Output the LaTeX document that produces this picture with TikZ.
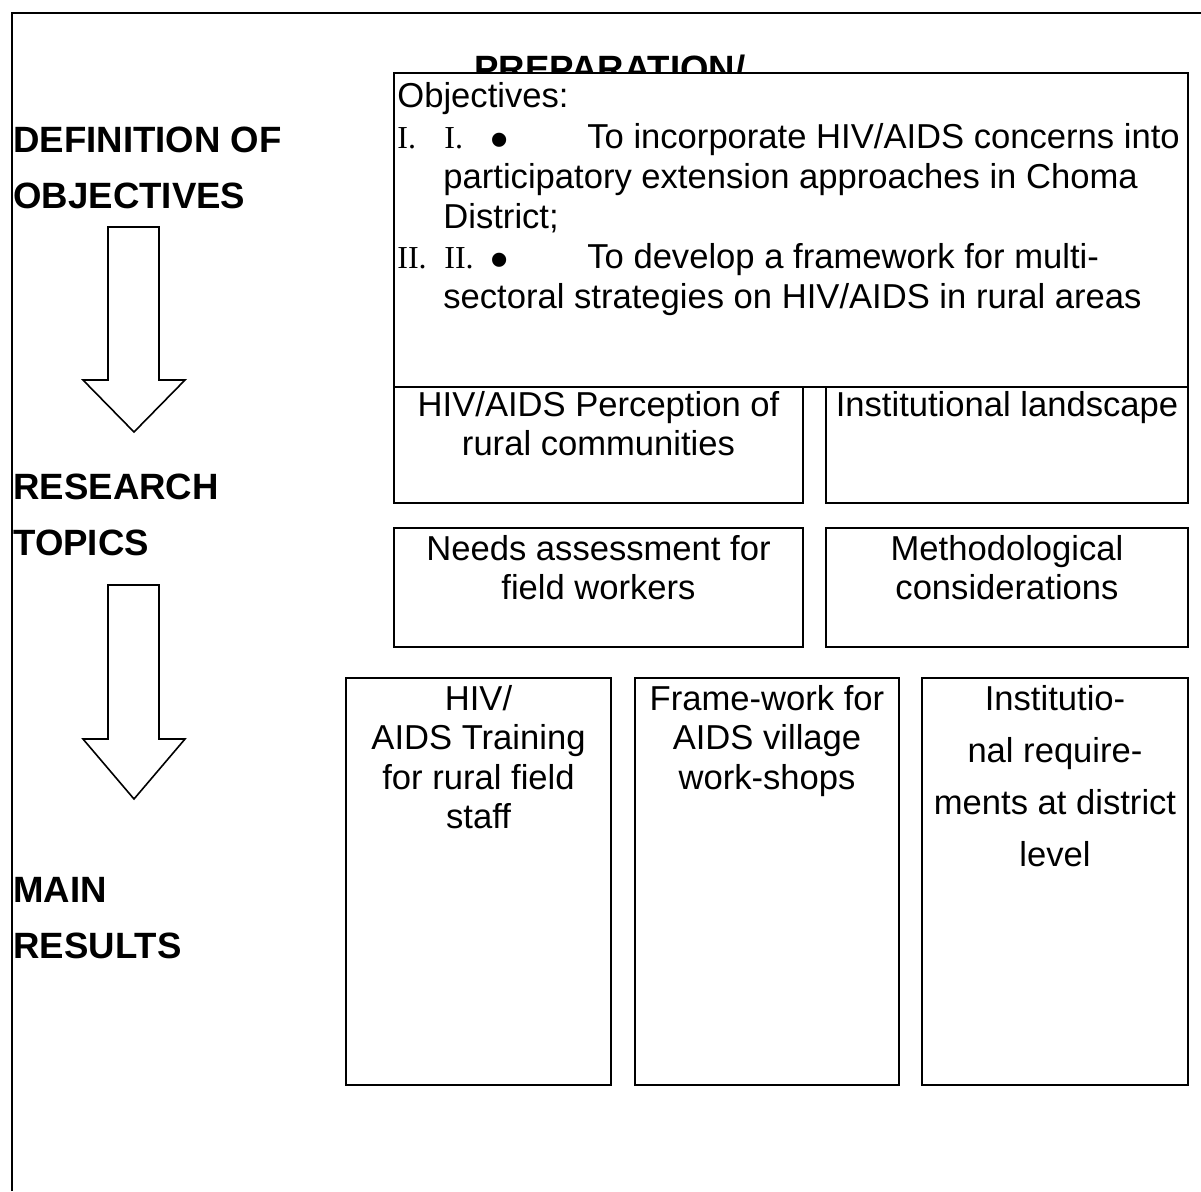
\documentclass[tikz,border=0pt]{standalone}
\usepackage{fontspec}
\setmainfont{Liberation Sans}
\newfontfamily\timesfont{Liberation Serif}
\usetikzlibrary{positioning}
\newcommand{\objdot}{\smash{\raisebox{-4.5pt}{•}}}

\begin{document}
\begin{tikzpicture}[x=0.5pt, y=-0.5pt,
  cell/.style={draw, line width=0.9pt, fill=white, inner sep=0pt, outer sep=0pt},
  txt/.style={inner sep=0pt, align=center, font=\fontsize{17.3}{19.7}\selectfont},
  head/.style={inner sep=0pt, align=left, anchor=north west, font=\fontsize{18.3}{28}\selectfont\bfseries},
  ln/.style={inner sep=0pt, anchor=base west, font=\fontsize{17.3}{20}\selectfont},
  rom/.style={ln, font=\fontsize{16}{20}\selectfont\timesfont},
  dot/.style={ln, font=\fontsize{26}{20}\selectfont},
  barrow/.style={draw, line width=0.8pt, line join=miter}]
  \useasboundingbox (0,0) rectangle (1201,1191);
  % frame
  \draw[line width=1pt] (12,1191) -- (12,13) -- (1201,13);
  % stage headings
  \node[head] (hdef) at (13,127) {DEFINITION OF\\OBJECTIVES};
  \node[head] (hres) at (13,474) {RESEARCH\\TOPICS};
  \node[head] (hmain) at (13,877) {MAIN\\RESULTS};
  \foreach \t/\h/\e in {227/380/432, 585/739/799}
    \draw[barrow] (108,\t) -- (159,\t) -- (159,\h) -- (185,\h) -- (134,\e) -- (83,\h) -- (108,\h) -- cycle;
  % objectives
  \node[inner sep=0pt, anchor=base, font=\fontsize{18.3}{22}\selectfont\bfseries] (prep) at (610,81) {PREPARATION/};
  \node[cell, minimum width=397pt, minimum height=157pt] (obj) at (791,230) {};
  \node[ln] (obj0) at (397,107) {Objectives:};
  \node[rom] (obj1a) at (397,148) {I.};
  \node[rom] (obj1b) at (444,148) {I.};
  \node[dot] (obj1c) at (490,148) {\objdot};
  \node[ln] (obj1) at (587,148) {To incorporate HIV/AIDS concerns into};
  \node[ln] (obj2) at (443,188) {participatory extension approaches in Choma};
  \node[ln] (obj3) at (443,228) {District;};
  \node[rom] (obj4a) at (397,268) {II.};
  \node[rom] (obj4b) at (444,268) {II.};
  \node[dot] (obj4c) at (490,268) {\objdot};
  \node[ln] (obj4) at (587,268) {To develop a framework for multi-};
  \node[ln] (obj5) at (443,308) {sectoral strategies on HIV/AIDS in rural areas};
  % research topics
  \node[cell, minimum width=204.5pt, minimum height=58pt] (topA) at (598.5,445) {};
  \node[cell, minimum width=181pt, minimum height=58pt] (topB) at (1007,445) {};
  \node[cell, minimum width=204.5pt, minimum height=59.5pt] (midC) at (598.5,587.5) {};
  \node[cell, minimum width=181pt, minimum height=59.5pt] (midD) at (1007,587.5) {};
  \node[txt, below=2pt of topA.north] (topAt) {HIV/AIDS Perception of\\rural communities};
  \node[txt, below=2pt of topB.north] (topBt) {Institutional landscape};
  \node[txt, below=3.5pt of midC.north] (midCt) {Needs assessment for\\field workers};
  \node[txt, below=3.5pt of midD.north] (midDt) {Methodological\\considerations};
  % main results
  \node[cell, minimum width=132.5pt, minimum height=203.5pt] (resE) at (478.5,881.5) {};
  \node[cell, minimum width=132pt, minimum height=203.5pt] (resF) at (767,881.5) {};
  \node[cell, minimum width=133pt, minimum height=203.5pt] (resG) at (1055,881.5) {};
  \node[txt, below=3.5pt of resE.north] (resEt) {HIV/\\AIDS Training\\for rural field\\staff};
  \node[txt, below=3.5pt of resF.north] (resFt) {Frame-work for\\AIDS village\\work-shops};
  \node[txt, below=3.5pt of resG.north, font=\fontsize{17.3}{26}\selectfont] (resGt) {Institutio-\\nal require-\\ments at district\\level};
\end{tikzpicture}
\end{document}
